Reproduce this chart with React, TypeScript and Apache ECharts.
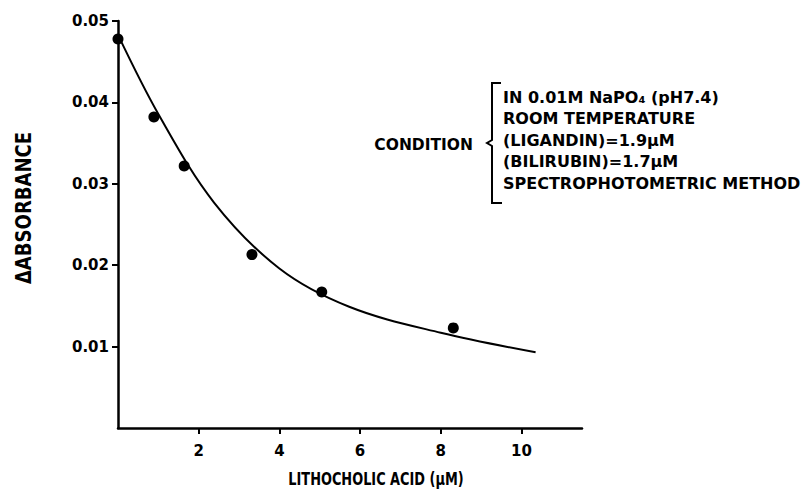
import { useEffect, useRef } from "react";
import * as echarts from "echarts";

// ---- data ----
const xTickValues = [2, 4, 6, 8, 10];
const yTickValues = [0.01, 0.02, 0.03, 0.04, 0.05];

const pointX = [0, 0.89, 1.64, 3.32, 5.05, 8.31];
const pointY = [0.0478, 0.0382, 0.0322, 0.0213, 0.0167, 0.0123];

const curveX = [0, 1.02, 2.38, 4.0, 5.73, 8.0, 10.35];
const curveY = [0.0483, 0.0384, 0.0277, 0.0196, 0.0149, 0.0117, 0.0093];

const xAxisTitle = "LITHOCHOLIC ACID (μM)";
const yAxisTitle = "ΔABSORBANCE";
const conditionLabel = "CONDITION";
const conditionLines = [
  "IN 0.01M NaPO₄ (pH7.4)",
  "ROOM TEMPERATURE",
  "(LIGANDIN)=1.9μM",
  "(BILIRUBIN)=1.7μM",
  "SPECTROPHOTOMETRIC METHOD",
];

const BOLD = "'DejaVu Sans', sans-serif";

export default function App() {
  const ref = useRef<HTMLDivElement>(null);

  useEffect(() => {
    if (!ref.current) return;
    const chart = echarts.init(ref.current, undefined, { renderer: "svg" });

    const points = pointX.map((x, i) => [x, pointY[i]]);
    const curve = curveX.map((x, i) => [x, curveY[i]]);

    const textBase = { fill: "#000", fontFamily: BOLD, fontWeight: "bold" as const };

    chart.setOption({
      animation: false,
      backgroundColor: "#fff",
      grid: { left: 118, right: 221, top: 21, bottom: 74 },
      xAxis: {
        type: "value",
        min: 0,
        max: 11.5,
        interval: 2,
        axisLine: { show: true, onZero: false, lineStyle: { color: "#000", width: 2.5 } },
        axisTick: { show: true, customValues: xTickValues, length: 6, lineStyle: { color: "#000", width: 2 } },
        axisLabel: {
          customValues: xTickValues,
          fontFamily: BOLD,
          fontWeight: "bold",
          fontSize: 15,
          color: "#000",
          margin: 15,
        },
        splitLine: { show: false },
      },
      yAxis: {
        type: "value",
        min: 0,
        max: 0.05,
        interval: 0.01,
        axisLine: { show: true, onZero: false, lineStyle: { color: "#000", width: 2.5 } },
        axisTick: { show: true, customValues: yTickValues, length: 6, lineStyle: { color: "#000", width: 2 } },
        axisLabel: {
          customValues: yTickValues,
          formatter: (v: number) => v.toFixed(2),
          fontFamily: BOLD,
          fontWeight: "bold",
          fontSize: 15,
          color: "#000",
          margin: 9,
        },
        splitLine: { show: false },
      },
      series: [
        {
          type: "line",
          data: curve,
          showSymbol: false,
          smooth: 0.35,
          lineStyle: { color: "#000", width: 2 },
          z: 2,
        },
        {
          type: "scatter",
          data: points,
          symbol: "circle",
          symbolSize: 11,
          itemStyle: { color: "#000", opacity: 1 },
          z: 3,
        },
      ],
      graphic: [
        {
          type: "text",
          x: 23,
          y: 208,
          rotation: Math.PI / 2,
          scaleX: 0.82,
          style: {
            ...textBase,
            text: yAxisTitle,
            fontSize: 22,
            align: "center",
            verticalAlign: "middle",
          },
        },
        {
          type: "text",
          x: 376,
          y: 479,
          scaleX: 0.76,
          style: {
            ...textBase,
            text: xAxisTitle,
            fontSize: 17,
            align: "center",
            verticalAlign: "middle",
          },
        },
        {
          type: "text",
          x: 473,
          y: 145,
          style: { ...textBase, text: conditionLabel, fontSize: 15.5, align: "right", verticalAlign: "middle" },
        },
        {
          type: "polyline",
          shape: {
            points: [
              [501, 83],
              [492, 83],
              [492, 140],
              [487, 143],
              [492, 146],
              [492, 203],
              [502, 203],
            ],
          },
          style: { stroke: "#000", lineWidth: 2, fill: "none" },
        },
        ...conditionLines.map((t, i) => ({
          type: "text",
          x: 503,
          y: 97 + i * 21.6,
          style: { ...textBase, text: t, fontSize: 16, align: "left", verticalAlign: "middle" },
        })),
      ],
    });

    return () => chart.dispose();
  }, []);

  return (
    <div
      ref={ref}
      style={{ position: "fixed", left: 0, top: 0, width: 803, height: 502, background: "#fff" }}
    />
  );
}
